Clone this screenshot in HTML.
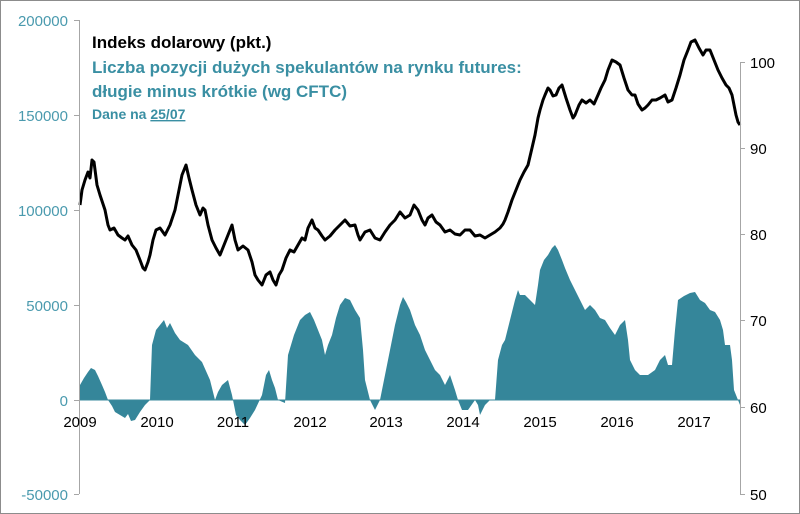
<!DOCTYPE html>
<html><head><meta charset="utf-8"><style>
body{margin:0;background:#fff}
svg{display:block;font-family:"Liberation Sans",sans-serif}
</style></head><body>
<svg width="800" height="514" viewBox="0 0 800 514">
<rect x="0.5" y="0.5" width="799" height="513" fill="#fff" stroke="#8c8c8c"/>
<path fill="#35869a" fill-rule="evenodd" d="M80 400 L80 385 L84 378 L88 372 L91 368 L95 370 L98 376 L102 385 L105 392 L108 400 L112 406 L115 412 L120 415 L125 418 L128 414 L131 421 L135 420 L140 412 L145 405 L150 400 L152 345 L156 330 L160 325 L164 320 L167 328 L170 323 L175 333 L180 340 L188 345 L195 355 L202 362 L210 380 L215 400 L218 392 L222 385 L228 380 L232 395 L236 415 L240 420 L245 425 L250 418 L255 410 L262 395 L266 375 L269 370 L272 380 L275 388 L278 400 L285 403 L288 355 L294 335 L300 320 L305 315 L310 312 L314 320 L318 330 L322 340 L325 355 L328 345 L332 335 L336 318 L340 305 L345 298 L350 300 L355 310 L360 318 L363 350 L365 380 L370 400 L375 410 L380 400 L384 380 L388 360 L392 340 L395 325 L400 305 L403 297 L406 302 L410 310 L415 325 L420 335 L425 350 L430 360 L435 370 L440 375 L445 385 L450 375 L455 390 L458 400 L462 410 L468 410 L475 400 L478 405 L480 415 L485 405 L490 400 L495 400 L498 360 L502 345 L505 340 L510 320 L515 300 L518 290 L520 295 L525 295 L530 300 L535 305 L538 285 L540 270 L544 260 L548 255 L552 248 L555 245 L558 250 L562 260 L565 268 L570 280 L575 290 L580 300 L585 310 L590 305 L595 310 L600 318 L605 320 L610 328 L615 335 L620 325 L625 320 L628 340 L630 360 L635 370 L640 375 L648 375 L655 370 L660 360 L665 355 L668 365 L672 365 L675 330 L678 300 L684 296 L690 293 L695 292 L700 300 L705 303 L710 310 L715 312 L720 320 L723 330 L725 345 L730 345 L732 360 L734 390 L738 400 L740 405 L740 400 Z"/>
<line x1="79" y1="400" x2="740" y2="400" stroke="#3a8a9c" stroke-width="1"/>
<polyline fill="none" stroke="#000" stroke-width="3" stroke-linejoin="round" points="80,205 82,190 85,180 88,172 90,178 92,160 94,162 97,185 100,195 105,210 108,225 110,230 114,228 118,235 122,238 125,240 128,236 132,245 136,250 140,260 143,268 145,270 148,262 150,255 153,240 156,230 160,228 165,235 170,225 175,210 178,195 182,175 186,165 189,178 192,190 196,205 200,215 203,208 205,210 208,225 212,240 216,248 220,255 224,245 228,235 232,225 235,240 238,250 243,246 248,250 252,262 255,275 258,280 262,285 266,275 270,272 273,280 276,285 279,275 282,270 286,258 290,250 294,252 298,245 302,238 305,240 308,228 312,220 315,228 318,230 322,236 325,240 330,236 335,230 340,225 345,220 350,226 355,225 358,235 360,240 365,232 370,230 375,238 380,240 385,232 390,225 395,220 400,212 405,218 410,215 414,205 418,210 422,220 425,225 428,218 432,215 436,222 440,225 445,232 450,230 455,234 460,235 465,230 470,230 475,236 480,235 485,238 490,235 495,232 500,228 503,224 505,220 508,212 512,200 516,190 520,180 524,172 528,165 532,148 535,135 538,118 540,110 543,100 545,95 548,88 550,90 553,96 556,95 559,88 562,85 566,98 570,110 573,118 575,115 579,105 582,100 586,103 590,100 594,104 598,95 601,88 605,80 608,70 612,60 616,62 620,65 624,78 628,90 632,95 635,95 638,104 642,110 645,108 648,105 652,100 656,100 660,98 665,95 668,102 672,100 676,88 680,75 684,60 688,50 691,42 695,40 699,48 703,55 706,50 710,50 714,60 718,70 722,78 726,85 729,88 732,95 734,105 736,115 738,122 740,125"/>
<g stroke="#a6a6a6" stroke-width="1">
<line x1="79.5" y1="20" x2="79.5" y2="494"/>
<line x1="740.5" y1="62" x2="740.5" y2="494"/>
<line x1="74" y1="20.5" x2="79" y2="20.5"/><line x1="74" y1="115.5" x2="79" y2="115.5"/>
<line x1="74" y1="210.5" x2="79" y2="210.5"/><line x1="74" y1="305.5" x2="79" y2="305.5"/>
<line x1="74" y1="400.5" x2="79" y2="400.5"/><line x1="74" y1="494.5" x2="79" y2="494.5"/>
<line x1="740" y1="62.5" x2="745" y2="62.5"/><line x1="740" y1="148.5" x2="745" y2="148.5"/>
<line x1="740" y1="234.5" x2="745" y2="234.5"/><line x1="740" y1="320.5" x2="745" y2="320.5"/>
<line x1="740" y1="407.5" x2="745" y2="407.5"/><line x1="740" y1="494.5" x2="745" y2="494.5"/>
</g>
<g fill="#4a9aae" font-size="15" text-anchor="end">
<text x="68" y="26">200000</text><text x="68" y="121">150000</text><text x="68" y="216">100000</text>
<text x="68" y="311">50000</text><text x="68" y="406">0</text><text x="68" y="500">-50000</text>
</g>
<g fill="#000" font-size="15" text-anchor="start">
<text x="750" y="68">100</text><text x="750" y="154">90</text><text x="750" y="240">80</text>
<text x="750" y="326">70</text><text x="750" y="413">60</text><text x="750" y="500">50</text>
</g>
<g fill="#000" font-size="15" text-anchor="middle">
<text x="80" y="427">2009</text><text x="157" y="427">2010</text><text x="233" y="427">2011</text>
<text x="310" y="427">2012</text><text x="386" y="427">2013</text><text x="463" y="427">2014</text>
<text x="540" y="427">2015</text><text x="617" y="427">2016</text><text x="694" y="427">2017</text>
</g>
<g font-weight="bold">
<text x="92" y="48" font-size="17" fill="#000">Indeks dolarowy (pkt.)</text>
<text x="92" y="73" font-size="17" fill="#3a8fa3">Liczba pozycji dużych spekulantów na rynku futures:</text>
<text x="92" y="97" font-size="17" fill="#3a8fa3">długie minus krótkie (wg CFTC)</text>
<text x="92" y="119" font-size="14" fill="#3a8fa3">Dane na <tspan text-decoration="underline">25/07</tspan></text>
</g>
</svg>
</body></html>
